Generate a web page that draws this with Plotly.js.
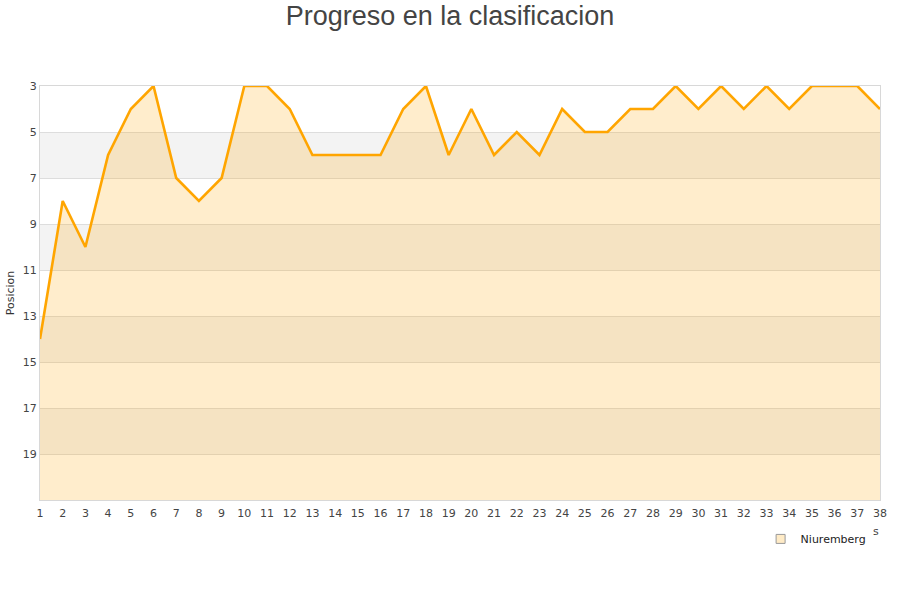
<!DOCTYPE html>
<html>
<head>
<meta charset="utf-8">
<script src="https://cdn.plot.ly/plotly-3.0.1.min.js"></script>
<style>html,body{margin:0;padding:0;background:#fff;}#chart{width:900px;height:600px;}</style>
</head>
<body>
<div id="chart"></div>
<script>
const rounds = [1,2,3,4,5,6,7,8,9,10,11,12,13,14,15,16,17,18,19,20,21,22,23,24,25,26,27,28,29,30,31,32,33,34,35,36,37,38];
const positions = [14,8,10,6,4,3,7,8,7,3,3,4,6,6,6,6,4,3,6,4,6,5,6,4,5,5,4,4,3,4,3,4,3,4,3,3,3,4];
const teamName = "Niuremberg";
const yTicks = [3,5,7,9,11,13,15,17,19];
const bandStarts = [5,9,13,17];
const bottomPos = 21;

const baseline = rounds.map(() => bottomPos);

const traces = [
  {x: rounds, y: baseline, mode: 'lines', line: {width: 0, color: 'rgba(0,0,0,0)'}, showlegend: false, hoverinfo: 'skip'},
  {x: rounds, y: positions, mode: 'lines', fill: 'tonexty', fillcolor: 'rgba(255,165,0,0.2)',
   line: {color: '#FFA500', width: 2.6}, showlegend: false, name: teamName},
  {x: [null], y: [null], mode: 'markers', name: teamName,
   marker: {symbol: 'square', size: 9, color: '#FFEBC6', line: {color: '#999', width: 1}}}
];

const shapes = bandStarts.map(s => ({
  type: 'rect', xref: 'paper', yref: 'y', x0: 0, x1: 1, y0: s, y1: s + 2,
  fillcolor: '#F3F3F3', line: {width: 0}, layer: 'below'
}));

const layout = {
  width: 900, height: 600,
  margin: {l: 40, r: 20, t: 86, b: 100},
  paper_bgcolor: '#fff', plot_bgcolor: '#fff',
  font: {family: 'DejaVu Sans, sans-serif', size: 11, color: '#444'},
  title: {text: 'Progreso en la clasificacion', x: 0.5, xanchor: 'center', y: 0.99, yanchor: 'top',
    font: {family: 'Liberation Sans, Arial, sans-serif', size: 27, color: '#444'}},
  xaxis: {range: [1, 38], tickmode: 'array', tickvals: rounds, ticktext: rounds.map(String),
    showgrid: false, zeroline: false, showline: true, linecolor: '#d8d8d8', mirror: true,
    ticks: '', ticklabelstandoff: 3, tickfont: {size: 11, color: '#444'}, fixedrange: true},
  yaxis: {range: [bottomPos, 3], tickmode: 'array', tickvals: yTicks, ticktext: yTicks.map(String),
    showgrid: true, gridcolor: '#dddddd', gridwidth: 1, zeroline: false, showline: true, linecolor: '#d8d8d8', mirror: true,
    ticks: '', ticklen: 0, tickfont: {size: 11, color: '#444'},
    title: {text: 'Posicion', font: {size: 11, color: '#333'}, standoff: 5}},
  shapes: shapes,
  showlegend: true,
  legend: {x: 0.99, xanchor: 'right', y: -0.094, yanchor: 'middle', orientation: 'h',
    font: {size: 11, color: '#222'}, bgcolor: 'rgba(0,0,0,0)'},
  annotations: [
    {text: 's', xref: 'paper', yref: 'paper', x: 0.995, y: -0.076, xanchor: 'center', yanchor: 'middle', showarrow: false,
     font: {size: 11, color: '#444'}}
  ]
};

Plotly.newPlot('chart', traces, layout, {displayModeBar: false, staticPlot: true});
</script>
</body>
</html>
